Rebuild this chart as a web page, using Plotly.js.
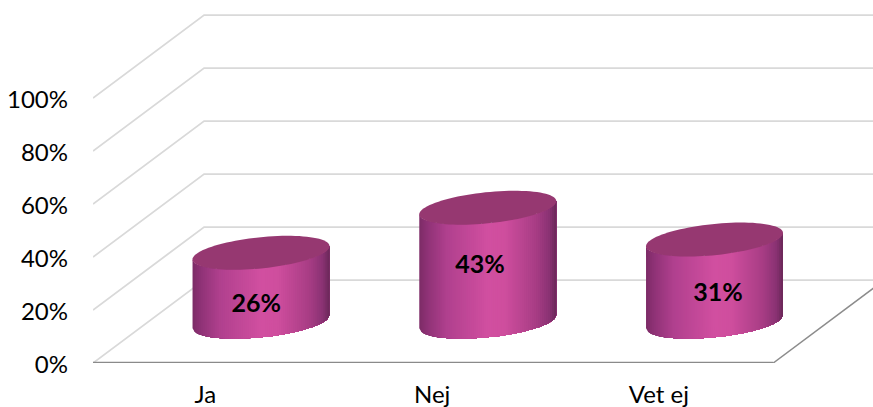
<!DOCTYPE html>
<html>
<head>
<meta charset="utf-8">
<script src="https://cdn.plot.ly/plotly-3.0.1.min.js"></script>
<style>html,body{margin:0;padding:0;background:#fff}</style>
</head>
<body>
<div id="chart" style="width:873px;height:407px"></div>
<script>
const categories = ["Ja", "Nej", "Vet ej"];
const values = [26, 43, 31];
const valueTicks = [0, 20, 40, 60, 80, 100];
const tickLabels = ["0%", "20%", "40%", "60%", "80%", "100%"];

// Oblique projection of the Excel 3-D box, in axis units
const depthX = 0.49, depthY = 31.3;
const midX = 0.241, midY = 15.6;
const radiusX = 0.302, radiusY = 5.9, tilt = 2.5;
const labelFactor = 0.875, labelDrop = 1.2, labelShift = [0.22, 0.207, 0.256];
const stops = [[0,"#7c2b66"],[0.06,"#8f3276"],[0.2,"#b0408e"],[0.5,"#d14fa0"],[0.62,"#cf4e9e"],[0.85,"#a83d85"],[0.95,"#8a3273"],[1,"#6a2758"]];
const hex = c => [1,3,5].map(i => parseInt(c.substr(i,2),16));
function shade(p){
  for (let i=1;i<stops.length;i++){
    if (p<=stops[i][0]){
      const f=(p-stops[i-1][0])/(stops[i][0]-stops[i-1][0]);
      const a=hex(stops[i-1][1]), b=hex(stops[i][1]);
      return "rgb("+a.map((v,j)=>Math.round(v+(b[j]-v)*f)).join(",")+")";
    }
  }
  return stops[stops.length-1][1];
}
const traces = [];
const poly = (x,y,color) => traces.push({type:"scatter",mode:"none",x,y,fill:"toself",fillcolor:color,
  hoverinfo:"skip",showlegend:false,cliponaxis:false});
const seg = (x,y,color,width) => traces.push({type:"scatter",mode:"lines",x,y,line:{color,width},
  hoverinfo:"skip",showlegend:false,cliponaxis:false});

// Walls and floor
const left = -0.5, right = categories.length - 0.5;
valueTicks.forEach(v => seg([left,left+depthX,right+depthX],[v,v+depthY,v+depthY],"#d9d9d9",1.8));
seg([right,right+depthX],[0,depthY],"#8c8c8c",1.5);
seg([left,right],[0,0],"#8a8a8a",2.4);

// Cylinders: each strip runs to the right edge and the next one paints over it, so no seams show
const N = 68;
values.forEach((v,i) => {
  const cx = i + midX, bottom = midY, top = midY + v;
  const px = a => cx + radiusX*Math.cos(a);
  const py = (a,c) => c + tilt*Math.cos(a) + radiusY*Math.sin(a);
  const ang = s => 2*Math.PI - Math.acos(-1 + 2*s/N);   // front half of the ellipse
  for (let s=0;s<N;s++){
    const xs=[], yb=[], yt=[];
    for (let k=s;k<=N;k++){ const a=ang(k); xs.push(px(a)); yb.push(py(a,bottom)); yt.push(py(a,top)); }
    poly(xs.concat(xs.slice().reverse(),[xs[0]]),
         yb.concat(yt.slice().reverse(),[yb[0]]),
         shade((s+0.5)/N));
  }
  const ex=[], ey=[];
  for (let s=0;s<=90;s++){ const a=2*Math.PI*s/90; ex.push(px(a)); ey.push(py(a,top)); }
  poly(ex,ey,"#963871");
});

// Data labels
traces.push({type:"scatter",mode:"text",
  x:values.map((v,i)=>i+labelShift[i]),
  y:values.map(v=>v*labelFactor-labelDrop),
  text:values.map(v=>v+"%"),
  textposition:"middle center",
  textfont:{family:"Lato, Carlito, sans-serif",size:25,color:"#000",weight:700},
  hoverinfo:"skip",showlegend:false,cliponaxis:false});

const font = {family:"Lato, Carlito, sans-serif",size:24,color:"#000"};
Plotly.newPlot("chart",traces,{
  width:873,height:407,
  margin:{l:93,r:0,t:0,b:44,pad:0},
  paper_bgcolor:"#fff",plot_bgcolor:"rgba(0,0,0,0)",
  showlegend:false,
  xaxis:{range:[-0.5,2.94],tickmode:"array",tickvals:categories.map((c,i)=>i),ticktext:categories,
    showgrid:false,zeroline:false,showline:false,ticks:"",tickfont:font,ticklabelstandoff:15,ticklabelshift:-1,fixedrange:true},
  yaxis:{range:[0,137],tickmode:"array",tickvals:valueTicks,ticktext:tickLabels,
    showgrid:false,zeroline:false,showline:false,ticks:"",tickfont:font,ticklabelstandoff:24,ticklabelshift:2,fixedrange:true}
},{displayModeBar:false,staticPlot:true});
</script>
</body>
</html>
